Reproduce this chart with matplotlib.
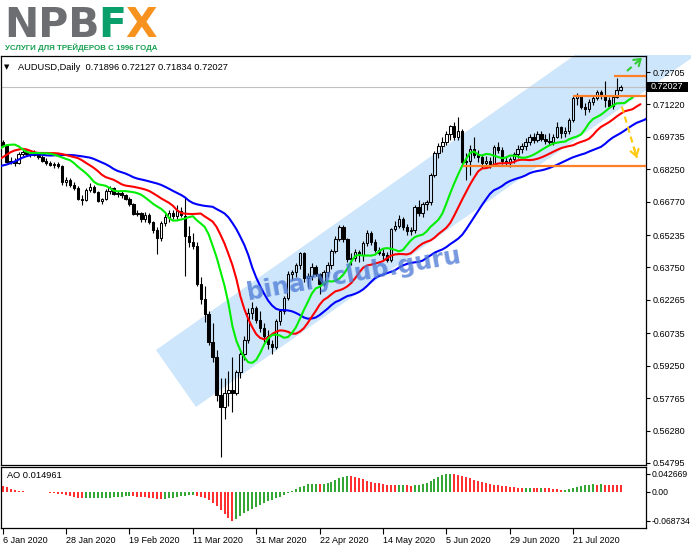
import numpy as np
import matplotlib
matplotlib.use("Agg")
import matplotlib.pyplot as plt
from matplotlib.patches import Polygon, Rectangle

plt.rcParams['font.family'] = ['Liberation Sans', 'DejaVu Sans']

# ---------------- data (AUDUSD, Daily) ----------------
opens = [0.6950, 0.6935, 0.6860, 0.6865, 0.6855, 0.6895, 0.6905, 0.6895, 0.6890, 0.6900,
         0.6880, 0.6865, 0.6855, 0.6845, 0.6850, 0.6840, 0.6765, 0.6775, 0.6755, 0.6740,
         0.6690, 0.6685, 0.6730, 0.6745, 0.6720, 0.6680, 0.6690, 0.6725, 0.6740, 0.6712,
         0.6718, 0.6705, 0.6690, 0.6665, 0.6620, 0.6625, 0.6595, 0.6615, 0.6585, 0.6545,
         0.6510, 0.6580, 0.6605, 0.6625, 0.6610, 0.6635, 0.6610, 0.6520, 0.6490, 0.6475,
         0.6300, 0.6230, 0.6160, 0.6035, 0.5965, 0.5790, 0.5735, 0.5800, 0.5812, 0.5800,
         0.5895, 0.5980, 0.6045, 0.6165, 0.6190, 0.6135, 0.6100, 0.6060, 0.6025, 0.6010,
         0.6130, 0.6175, 0.6235, 0.6345, 0.6355, 0.6385, 0.6440, 0.6325, 0.6335, 0.6375,
         0.6345, 0.6300, 0.6355, 0.6385, 0.6450, 0.6505, 0.6560, 0.6505, 0.6415, 0.6420,
         0.6445, 0.6430, 0.6485, 0.6535, 0.6490, 0.6455, 0.6440, 0.6430, 0.6410, 0.6550,
         0.6565, 0.6595, 0.6560, 0.6540, 0.6545, 0.6650, 0.6625, 0.6665, 0.6675, 0.6800,
         0.6900, 0.6930, 0.6950, 0.6985, 0.7025, 0.6975, 0.7000, 0.6860, 0.6865, 0.6920,
         0.6890, 0.6880, 0.6855, 0.6862, 0.6850, 0.6925, 0.6915, 0.6865, 0.6860, 0.6870,
         0.6895, 0.6920, 0.6930, 0.6950, 0.6975, 0.6960, 0.6985, 0.6965, 0.6955, 0.6950,
         0.6975, 0.7020, 0.6990, 0.7000, 0.7050, 0.7150, 0.7160, 0.7110, 0.7100, 0.7135,
         0.7150, 0.7180, 0.7160, 0.7140, 0.7115, 0.7155, 0.71896]
highs = [0.6958, 0.6940, 0.6880, 0.6875, 0.6905, 0.6915, 0.6912, 0.6905, 0.6915, 0.6905,
         0.6890, 0.6875, 0.6865, 0.6860, 0.6858, 0.6845, 0.6790, 0.6785, 0.6765, 0.6750,
         0.6705, 0.6740, 0.6760, 0.6752, 0.6725, 0.6695, 0.6735, 0.6750, 0.6745, 0.6725,
         0.6725, 0.6710, 0.6700, 0.6670, 0.6640, 0.6630, 0.6630, 0.6625, 0.6590, 0.6560,
         0.6590, 0.6622, 0.6640, 0.6640, 0.6662, 0.6650, 0.6700, 0.6565, 0.6535, 0.6490,
         0.6330, 0.6290, 0.6175, 0.6120, 0.5995, 0.5870, 0.5870, 0.5900, 0.5965, 0.5905,
         0.5990, 0.6060, 0.6190, 0.6215, 0.6200, 0.6175, 0.6120, 0.6090, 0.6045, 0.6140,
         0.6185, 0.6245, 0.6360, 0.6365, 0.6395, 0.6445, 0.6445, 0.6350, 0.6395, 0.6385,
         0.6350, 0.6365, 0.6400, 0.6460, 0.6520, 0.6570, 0.6570, 0.6510, 0.6440, 0.6460,
         0.6455, 0.6495, 0.6545, 0.6540, 0.6505, 0.6470, 0.6460, 0.6445, 0.6555, 0.6590,
         0.6615, 0.6605, 0.6575, 0.6560, 0.6660, 0.6685, 0.6675, 0.6685, 0.6810, 0.6910,
         0.6945, 0.6975, 0.7000, 0.7030, 0.7040, 0.7065, 0.7010, 0.6900, 0.6935, 0.6975,
         0.6915, 0.6895, 0.6885, 0.6880, 0.6935, 0.6950, 0.6925, 0.6885, 0.6880, 0.6905,
         0.6935, 0.6945, 0.6970, 0.6985, 0.6990, 0.7000, 0.7000, 0.6985, 0.6990, 0.6985,
         0.7040, 0.7025, 0.7020, 0.7060, 0.7160, 0.7175, 0.7165, 0.7130, 0.7145, 0.7165,
         0.7190, 0.7190, 0.7227, 0.7155, 0.7165, 0.7245, 0.72127]
lows = [0.6925, 0.6855, 0.6848, 0.6840, 0.6850, 0.6885, 0.6885, 0.6880, 0.6885, 0.6870,
        0.6860, 0.6845, 0.6840, 0.6830, 0.6830, 0.6755, 0.6750, 0.6745, 0.6730, 0.6685,
        0.6660, 0.6680, 0.6720, 0.6715, 0.6675, 0.6665, 0.6682, 0.6710, 0.6705, 0.6700,
        0.6695, 0.6685, 0.6655, 0.6615, 0.6610, 0.6585, 0.6585, 0.6575, 0.6535, 0.6435,
        0.6495, 0.6565, 0.6585, 0.6595, 0.6598, 0.6605, 0.6335, 0.6470, 0.6460, 0.6290,
        0.6210, 0.6125, 0.6020, 0.5940, 0.5765, 0.5506, 0.5680, 0.5740, 0.5712, 0.5790,
        0.5870, 0.5950, 0.6030, 0.6140, 0.6120, 0.6080, 0.6035, 0.6000, 0.5980, 0.6000,
        0.6110, 0.6160, 0.6225, 0.6320, 0.6330, 0.6370, 0.6310, 0.6285, 0.6320, 0.6335,
        0.6255, 0.6290, 0.6330, 0.6370, 0.6440, 0.6495, 0.6490, 0.6400, 0.6385, 0.6405,
        0.6400, 0.6405, 0.6475, 0.6480, 0.6445, 0.6430, 0.6410, 0.6400, 0.6400, 0.6540,
        0.6555, 0.6545, 0.6525, 0.6525, 0.6535, 0.6610, 0.6605, 0.6640, 0.6660, 0.6790,
        0.6875, 0.6905, 0.6935, 0.6960, 0.6960, 0.6960, 0.6845, 0.6778, 0.6800, 0.6875,
        0.6860, 0.6830, 0.6830, 0.6830, 0.6840, 0.6900, 0.6850, 0.6845, 0.6835, 0.6855,
        0.6875, 0.6900, 0.6915, 0.6935, 0.6945, 0.6950, 0.6955, 0.6940, 0.6935, 0.6935,
        0.6970, 0.6970, 0.6975, 0.6985, 0.7040, 0.7120, 0.7100, 0.7075, 0.7085, 0.7120,
        0.7140, 0.7145, 0.7110, 0.7105, 0.7100, 0.7150, 0.71834]
closes = [0.6935, 0.6860, 0.6865, 0.6855, 0.6895, 0.6905, 0.6895, 0.6890, 0.6900, 0.6880,
          0.6865, 0.6855, 0.6845, 0.6850, 0.6840, 0.6765, 0.6775, 0.6755, 0.6740, 0.6690,
          0.6685, 0.6730, 0.6745, 0.6720, 0.6680, 0.6690, 0.6725, 0.6740, 0.6712, 0.6718,
          0.6705, 0.6690, 0.6665, 0.6620, 0.6625, 0.6595, 0.6615, 0.6585, 0.6545, 0.6510,
          0.6580, 0.6605, 0.6625, 0.6610, 0.6635, 0.6615, 0.6520, 0.6490, 0.6475, 0.6300,
          0.6230, 0.6160, 0.6035, 0.5965, 0.5790, 0.5735, 0.5800, 0.5812, 0.5800, 0.5895,
          0.5980, 0.6045, 0.6165, 0.6190, 0.6135, 0.6100, 0.6060, 0.6025, 0.6010, 0.6130,
          0.6175, 0.6235, 0.6345, 0.6355, 0.6385, 0.6440, 0.6325, 0.6335, 0.6375, 0.6345,
          0.6300, 0.6355, 0.6385, 0.6450, 0.6505, 0.6560, 0.6505, 0.6415, 0.6420, 0.6445,
          0.6430, 0.6485, 0.6535, 0.6490, 0.6455, 0.6440, 0.6430, 0.6410, 0.6550, 0.6565,
          0.6595, 0.6560, 0.6540, 0.6545, 0.6650, 0.6625, 0.6665, 0.6675, 0.6800, 0.6900,
          0.6930, 0.6950, 0.6985, 0.7025, 0.6975, 0.7000, 0.6860, 0.6865, 0.6920, 0.6890,
          0.6880, 0.6855, 0.6862, 0.6850, 0.6925, 0.6915, 0.6865, 0.6860, 0.6870, 0.6895,
          0.6920, 0.6930, 0.6950, 0.6975, 0.6960, 0.6985, 0.6965, 0.6955, 0.6950, 0.6975,
          0.7020, 0.6990, 0.7000, 0.7050, 0.7150, 0.7160, 0.7110, 0.7100, 0.7135, 0.7150,
          0.7180, 0.7160, 0.7140, 0.7115, 0.7155, 0.7190, 0.72027]

# median prices of the bars before the first visible one (indicator warm-up only)
warmup_median = [0.6785, 0.6780, 0.6775, 0.6770, 0.6775, 0.6790, 0.6830, 0.6845, 0.6835, 0.6835,
                 0.6840, 0.6845, 0.6865, 0.6895, 0.6880, 0.6860, 0.6855, 0.6855, 0.6870, 0.6880,
                 0.6895, 0.6905, 0.6925, 0.6950, 0.6975, 0.6985, 0.6965, 0.6945]

ao_values = [0.0140, 0.0105, 0.0070, 0.0045, 0.0028, 0.0012, 0.0004, 0.0001, -0.0002, -0.0004,
             -0.0007, -0.0015, -0.0025, -0.0035, -0.0047, -0.0062, -0.0080, -0.0100, -0.0120, -0.0140,
             -0.0160, -0.0158, -0.0156, -0.0153, -0.0150, -0.0147, -0.0143, -0.0139, -0.0134, -0.0127,
             -0.0120, -0.0113, -0.0106, -0.0112, -0.0120, -0.0128, -0.0137, -0.0146, -0.0156, -0.0165,
             -0.0173, -0.0168, -0.0156, -0.0143, -0.0128, -0.0113, -0.0098, -0.0088, -0.0080, -0.0092,
             -0.0118, -0.0155, -0.0205, -0.0265, -0.0345, -0.0435, -0.0530, -0.0620, -0.068734, -0.0640,
             -0.0580, -0.0515, -0.0455, -0.0402, -0.0355, -0.0312, -0.0272, -0.0233, -0.0195, -0.0155,
             -0.0115, -0.0075, -0.0035, 0.0012, 0.0058, 0.0105, 0.0145, 0.0172, 0.0186, 0.0193,
             0.0188, 0.0194, 0.0205, 0.0232, 0.0270, 0.0315, 0.0352, 0.0372, 0.0366, 0.0348,
             0.0322, 0.0293, 0.0265, 0.0238, 0.0215, 0.0196, 0.0180, 0.0166, 0.0155, 0.0149,
             0.0153, 0.0157, 0.0150, 0.0146, 0.0151, 0.0162, 0.0184, 0.0214, 0.0252, 0.0296,
             0.0345, 0.0390, 0.0412, 0.042669, 0.0418, 0.0402, 0.0378, 0.0348, 0.0315, 0.0282,
             0.0252, 0.0226, 0.0204, 0.0185, 0.0170, 0.0156, 0.0142, 0.0128, 0.0115, 0.0104,
             0.0096, 0.0091, 0.0094, 0.0099, 0.0096, 0.0092, 0.0095, 0.0090, 0.0082, 0.0071,
             0.0055, 0.0032, 0.0046, 0.0066, 0.0090, 0.0115, 0.0136, 0.0152, 0.0163, 0.0174,
             0.0169, 0.0173, 0.0167, 0.0161, 0.0156, 0.0153, 0.014961]

date_labels = ["6 Jan 2020", "28 Jan 2020", "19 Feb 2020", "11 Mar 2020", "31 Mar 2020",
               "22 Apr 2020", "14 May 2020", "5 Jun 2020", "29 Jun 2020", "21 Jul 2020"]
date_label_bars = [0, 16, 32, 48, 64, 80, 96, 112, 128, 144]
price_ticks = [0.72705, 0.71220, 0.69735, 0.68250, 0.66770, 0.65235, 0.63750, 0.62265,
               0.60735, 0.59250, 0.57765, 0.56280, 0.54795]
ao_ticks = [0.042669, 0.0, -0.068734]
ao_tick_labels = ["0.042669", "0.00", "-0.068734"]
last_bar = dict(o=0.71896, h=0.72127, l=0.71834, c=0.72027)
ao_last = 0.014961

# horizontal levels (price, first bar)
level_prices = [0.7252, 0.7162, 0.6840]
level_starts = [154.4, 144.0, 116.2]

# annotations: channel anchors (bar, price), arrows (bar, price)
chan_upper_left = (38.7, 0.5997)
chan_lower_left = (48.8, 0.5736)
chan_slope = 0.0012776     # price per bar
green_arrow = [(157.6, 0.7275), (161.4, 0.7336)]
yellow_arrow = [(156.3, 0.7112), (160.1, 0.6877)]

# ---------------- figure ----------------
W, H = 691, 549
fig = plt.figure(figsize=(W / 100, H / 100), dpi=100)
fig.patch.set_facecolor('white')


def fx(px):
    return px / W


def fy(py):
    return 1 - py / H


ax = fig.add_axes([fx(1), fy(465), fx(646) - fx(1), fy(56) - fy(465)])
ax2 = fig.add_axes([fx(1), fy(528), fx(646) - fx(1), fy(467) - fy(528)])

XMIN, XMAX = -0.43, 162.4
ax.set_xlim(XMIN, XMAX)
ax.set_ylim(0.54703, 0.73438)
ax2.set_xlim(XMIN, XMAX)
ax2.set_ylim(-0.0864, 0.0588)

# channel
far = 150
B = chan_upper_left
A = chan_lower_left
chan = Polygon([B, A, (A[0] + far, A[1] + far * chan_slope), (B[0] + far, B[1] + far * chan_slope)],
               closed=True, facecolor='#cde6fb', edgecolor='none', zorder=0.5)
ax.add_patch(chan)
chan.set_clip_path(Rectangle((0, 0), 1, fy(55), transform=fig.transFigure))

# last price line
ax.axhline(last_bar['c'], color='#c0c0c0', lw=0.8, zorder=1)

# candles
o = np.array(opens)
c = np.array(closes)
h = np.array(highs)
l = np.array(lows)
idx = np.arange(len(c))
up = c >= o
blo = np.minimum(o, c)
bhi = np.maximum(o, c)
bh = np.maximum(bhi - blo, 0.00012)
ax.vlines(idx, l, blo, color='black', lw=0.8, zorder=2)
ax.vlines(idx, bhi, h, color='black', lw=0.8, zorder=2)
ax.bar(idx[up], bh[up], bottom=blo[up], width=0.6, facecolor='none', edgecolor='black',
       lw=0.75, zorder=3)
ax.bar(idx[~up], bh[~up], bottom=blo[~up], width=0.6, facecolor='black', edgecolor='black',
       lw=0.75, zorder=3)


# Alligator (SMMA of median price, shifted)
def smma(vals, n):
    out = np.full(len(vals), np.nan)
    out[n - 1] = np.mean(vals[:n])
    for i in range(n, len(vals)):
        out[i] = (out[i - 1] * (n - 1) + vals[i]) / n
    return out


med = np.concatenate([np.array(warmup_median), (h + l) / 2])
base_x = np.arange(len(med)) - len(warmup_median)
for n, shift, col in [(13, 8, '#0000ff'), (8, 5, '#ff0000'), (5, 3, '#00ee00')]:
    s = smma(med, n)
    xs = base_x + shift
    m = (xs >= -2) & ~np.isnan(s)
    ax.plot(xs[m], s[m], color=col, lw=1.5, zorder=4, solid_capstyle='round')

# orange levels
for p, s0 in zip(level_prices, level_starts):
    ax.hlines(p, s0, XMAX, color='#ff7f27', lw=1.6, zorder=4)

# arrows
for pts, col in [(green_arrow, '#33cc33'), (yellow_arrow, '#ffc90e')]:
    (x0, y0), (x1, y1) = pts
    ax.plot([x0, x1], [y0, y1], color=col, lw=1.5, ls=(0, (3, 2)), zorder=6, clip_on=False)
    bx, by = x1 - 0.2 * (x1 - x0), y1 - 0.2 * (y1 - y0)
    ax.annotate('', xy=(x1, y1), xytext=(bx, by), zorder=6, annotation_clip=False,
                arrowprops=dict(arrowstyle='->,head_length=0.45,head_width=0.3', color=col, lw=1.5,
                                shrinkA=0, shrinkB=0))

# watermark
ax.text(88.5, 0.6345, 'binaryclub.guru', rotation=10, rotation_mode='anchor', ha='center',
        va='center', fontsize=17.5, fontweight='bold', color='#4f7bd6', alpha=0.78, zorder=5,
        family='DejaVu Sans')

# AO histogram
ao = np.array(ao_values)
prev = np.concatenate([[ao[0]], ao[:-1]])
cols = np.where(ao > prev, '#1f9e1f', '#ff1a1a')
ax2.vlines(np.arange(len(ao)), 0, ao, colors=cols, lw=1.3)

# axes styling
for a in (ax, ax2):
    a.yaxis.tick_right()
    a.tick_params(axis='y', direction='out', length=3, width=0.8, pad=2, labelsize=6.5)
    for sp in a.spines.values():
        sp.set_linewidth(0.9)
        sp.set_color('black')
ax.set_yticks(price_ticks)
ax.set_yticklabels([f"{v:.5f}" for v in price_ticks])
ax.tick_params(axis='x', bottom=False, labelbottom=False)
ax2.set_yticks(ao_ticks)
ax2.set_yticklabels(ao_tick_labels)
ax2.tick_params(axis='y', pad=1, labelsize=6.2)
ax2.set_xticks(date_label_bars)
ax2.set_xticklabels(date_labels, ha='left')
ax2.tick_params(axis='x', direction='out', length=4, width=0.8, pad=1.5, labelsize=6.5)

# current price tag
ytr = ax.get_yaxis_transform()
ax.add_patch(Rectangle((1.0, last_bar['c'] - 0.00225), 42 / 645, 0.0045, transform=ytr,
                       facecolor='black', edgecolor='none', clip_on=False, zorder=10))
ax.text(1.0 + 5 / 645, last_bar['c'], f"{last_bar['c']:.5f}", transform=ytr, ha='left',
        va='center', color='white', fontsize=6.5, zorder=11, clip_on=False)

# titles
ax.text(3 / 645, (465 - 67) / 409, '▼', transform=ax.transAxes, fontsize=5, va='center',
        ha='left', family='DejaVu Sans')
ax.text(17 / 645, (465 - 67) / 409,
        f"AUDUSD,Daily  {last_bar['o']:.5f} {last_bar['h']:.5f} {last_bar['l']:.5f} {last_bar['c']:.5f}",
        transform=ax.transAxes, fontsize=6.7, va='center', ha='left')
ax2.text(6 / 645, (528 - 476) / 61, f"AO {ao_last:.6f}", transform=ax2.transAxes, fontsize=6.7,
         va='center', ha='left')

# logo
r = fig.canvas.get_renderer()
logo_parts = [('NPB', '#6d6e71'), ('F', '#0aa06c'), ('X', '#f7921e')]
fs = 29.5
xpos = 4
for s, col in logo_parts:
    t = fig.text(fx(xpos), fy(37), s, fontsize=fs, fontweight='bold', color=col,
                 family='DejaVu Sans', va='baseline', ha='left')
    bb = t.get_window_extent(r)
    xpos = bb.x1 - 1

sub = fig.text(fx(5), fy(50), 'УСЛУГИ ДЛЯ ТРЕЙДЕРОВ С 1996 ГОДА', fontsize=6.0,
               fontweight='bold', color='#15a050', va='baseline', ha='left')
bb = sub.get_window_extent(r)
sub.set_fontsize(6.0 * 153 / max(bb.width, 1))

fig.savefig('out.png', dpi=100)
